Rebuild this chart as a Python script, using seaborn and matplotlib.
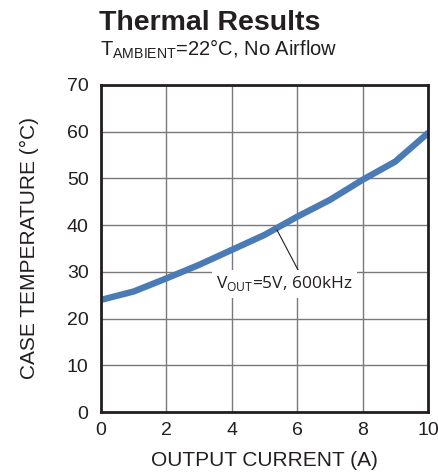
import seaborn as sns
import pandas as pd
import matplotlib.pyplot as plt

# Output current (A) and case temperature (C)
current = [0, 1, 2, 3, 4, 5, 6, 7, 8, 9, 10]
temperature = [24.0, 25.8, 28.6, 31.5, 34.7, 37.9, 41.8, 45.4, 49.7, 53.6, 59.7]
x_ticks = [0, 2, 4, 6, 8, 10]
y_ticks = [0, 10, 20, 30, 40, 50, 60, 70]

df = pd.DataFrame({"current": current, "temp": temperature})

sns.set_style("white")
plt.rcParams['font.family'] = ['Liberation Sans', 'DejaVu Sans']

fig = plt.figure(figsize=(4.38, 4.74), dpi=100)
ax = fig.add_axes([0.2306, 0.1308, 0.977 - 0.2306, 0.8207 - 0.1308])

sns.lineplot(data=df, x="current", y="temp", ax=ax, color="#4a7bb5", linewidth=4.6)

ax.set_xlim(0, 10)
ax.set_ylim(0, 70)
ax.set_xticks(x_ticks)
ax.set_yticks(y_ticks)
ax.grid(True, color="#7a7a7a", linewidth=1.0)
ax.set_axisbelow(True)
for s in ax.spines.values():
    s.set_color("#231f20")
    s.set_linewidth(2)
ax.tick_params(labelsize=14, length=0, colors="#231f20")
ax.tick_params(axis="y", pad=9)
ax.tick_params(axis="x", pad=7)
ax.set_xlabel("OUTPUT CURRENT (A)", fontsize=15, color="#231f20", labelpad=9)
ax.set_ylabel("CASE TEMPERATURE (°C)", fontsize=15, color="#231f20", labelpad=20)

# annotation with a leader line
ax.annotate(r"V$_\mathregular{OUT}$=5V, 600kHz", xy=(5.38, 39.0), xytext=(5.6, 27.4),
            ha="center", va="center", fontsize=12.5, family=["Open Sans", "DejaVu Sans"],
            color="#231f20",
            bbox=dict(boxstyle="square,pad=0.25", fc="white", ec="none"),
            arrowprops=dict(arrowstyle="-", color="#231f20", lw=0.8,
                            shrinkA=0, shrinkB=0, relpos=(0.62, 1.0)))

fig.text(0.226, 0.937, "Thermal Results", fontsize=20.5, fontweight="bold", color="#231f20")
fig.text(0.228, 0.882, r"T$_\mathregular{AMBIENT}$=22°C, No Airflow", fontsize=14.5, color="#231f20")

fig.savefig("out.png", dpi=100)
